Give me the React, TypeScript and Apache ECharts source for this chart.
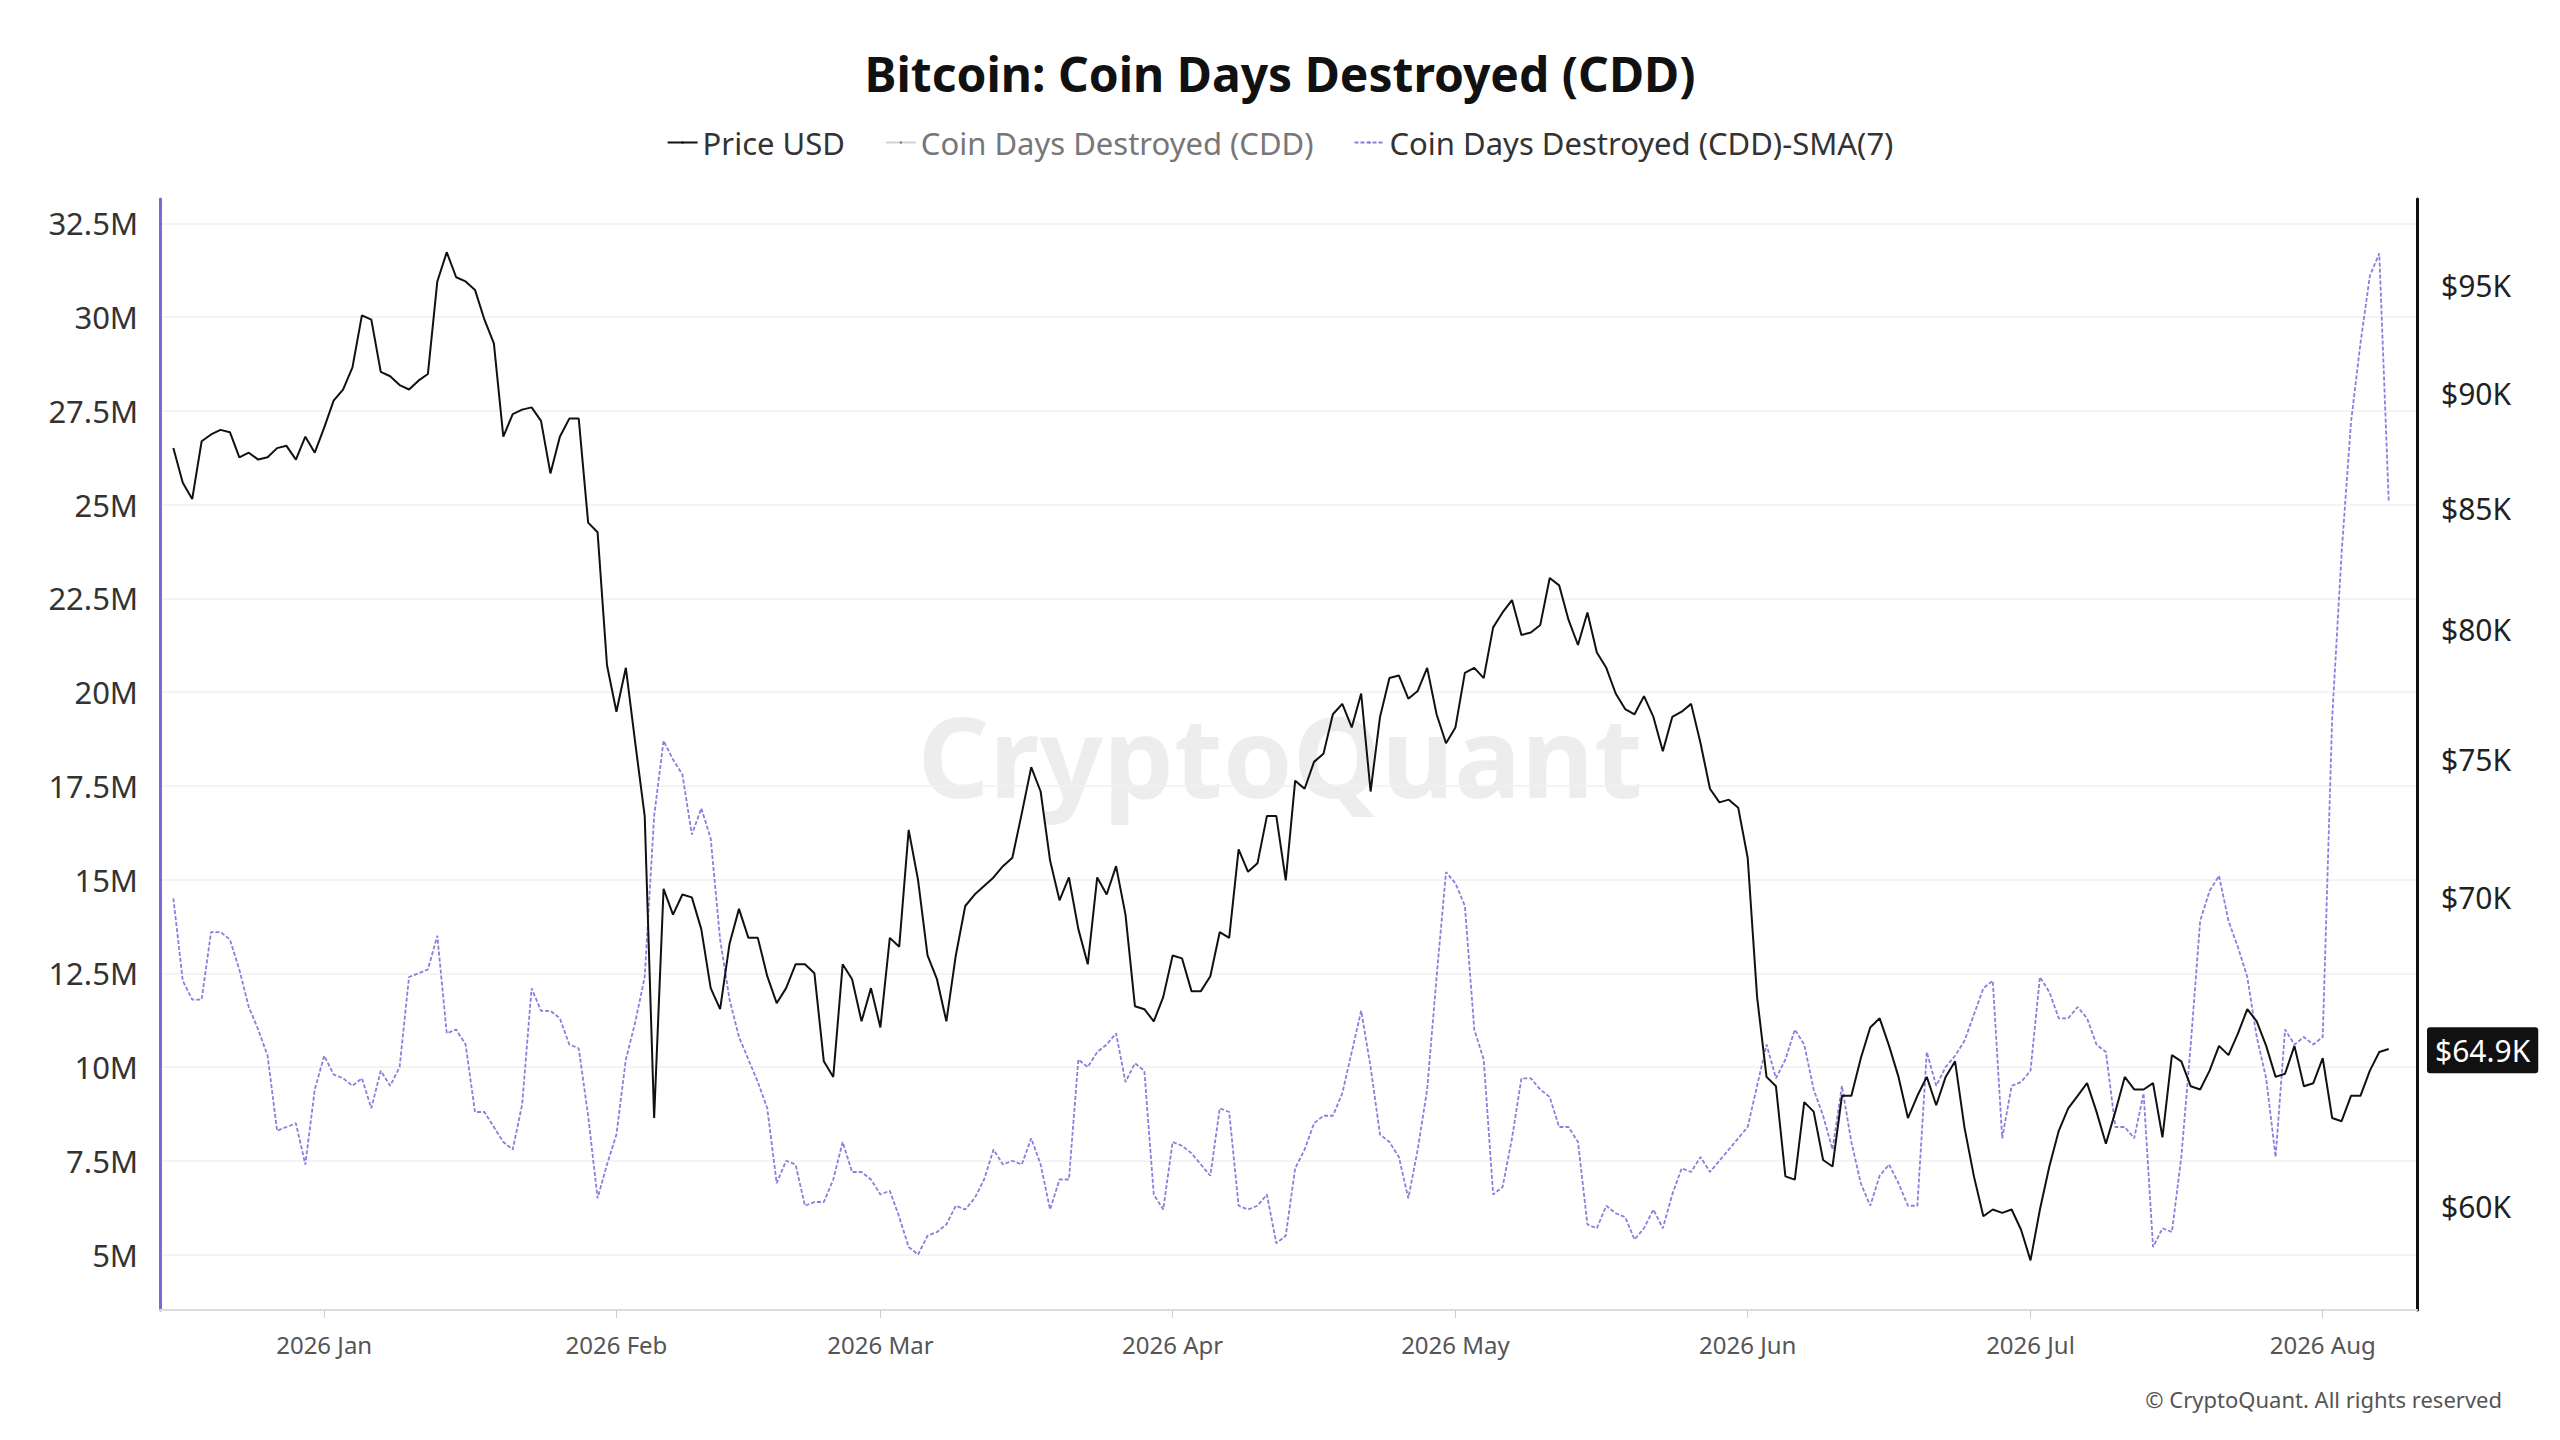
import { useEffect, useRef } from 'react';
import * as echarts from 'echarts';

const startDate = Date.UTC(2025, 11, 16);
const DAY = 86400000;

// Price USD, thousands, daily from 2025-12-16
const priceK = [
  87.6, 86.1, 85.4, 87.9, 88.2, 88.4, 88.3, 87.2, 87.4, 87.1, 87.2, 87.6, 87.7, 87.1, 88.1, 87.4,
  88.5, 89.7, 90.2, 91.2, 93.6, 93.4, 91.0, 90.8, 90.4, 90.2, 90.6, 90.9, 95.2, 96.6, 95.4, 95.2,
  94.8, 93.4, 92.3, 88.1, 89.1, 89.3, 89.4, 88.8, 86.5, 88.1, 88.9, 88.9, 84.4, 84.0, 78.6,
  76.8, 78.5, 75.6, 72.9, 62.7, 70.3, 69.4, 70.1, 70.0, 68.9, 66.9, 66.2, 68.4, 69.6, 68.6, 68.6,
  67.3, 66.4, 66.9, 67.7, 67.7, 67.4, 64.5, 64.0, 67.7, 67.2, 65.8, 66.9,
  65.6, 68.6, 68.3, 72.4, 70.6, 68.0, 67.2, 65.8, 68.0, 69.7, 70.1, 70.4, 70.7, 71.1, 71.4, 73.0,
  74.7, 73.8, 71.3, 69.9, 70.7, 68.9, 67.7, 70.7, 70.1, 71.1, 69.4, 66.3, 66.2, 65.8, 66.6,
  68.0, 67.9, 66.8, 66.8, 67.3, 68.8, 68.6, 71.7, 70.9, 71.2, 72.9, 72.9, 70.6, 74.2, 73.9, 74.9,
  75.2, 76.7, 77.1, 76.2, 77.5, 73.8, 76.6, 78.1, 78.2, 77.3, 77.6, 78.5, 76.7, 75.6,
  76.2, 78.3, 78.5, 78.1, 80.1, 80.7, 81.2, 79.8, 79.9, 80.2, 82.1, 81.8, 80.4, 79.4, 80.7, 79.1,
  78.5, 77.5, 76.9, 76.7, 77.4, 76.6, 75.3, 76.6, 76.8, 77.1, 75.6, 73.9, 73.4, 73.5, 73.2,
  71.4, 66.6, 64.0, 63.7, 60.9, 60.8, 63.2, 62.9, 61.4, 61.2, 63.4, 63.4, 64.6, 65.6, 65.9, 65.0,
  64.0, 62.7, 63.4, 64.0, 63.1, 64.0, 64.5, 62.4, 60.9, 59.7, 59.9, 59.8, 59.9, 59.3,
  58.4, 59.9, 61.2, 62.3, 63.0, 63.4, 63.8, 62.9, 61.9, 62.9, 64.0, 63.6, 63.6, 63.8, 62.1, 64.7,
  64.5, 63.7, 63.6, 64.2, 65.0, 64.7, 65.4, 66.2, 65.8, 65.0, 64.0, 64.1, 65.0, 63.7, 63.8,
  64.6, 62.7, 62.6, 63.4, 63.4, 64.2, 64.8, 64.9,
];

// Coin Days Destroyed SMA(7), millions
const cddSma = [
  14.5, 12.3, 11.8, 11.8, 13.6, 13.6, 13.4, 12.6, 11.6, 11.0, 10.3, 8.3, 8.4, 8.5, 7.4, 9.4,
  10.3, 9.8, 9.7, 9.5, 9.7, 8.9, 9.9, 9.5, 10.0, 12.4, 12.5, 12.6, 13.5, 10.9, 11.0, 10.6,
  8.8, 8.8, 8.4, 8.0, 7.8, 9.0, 12.1, 11.5, 11.5, 11.3, 10.6, 10.5, 8.7, 6.5, 7.4,
  8.2, 10.2, 11.2, 12.4, 16.7, 18.7, 18.2, 17.8, 16.2, 16.9, 16.1, 13.4, 11.8, 10.8, 10.2, 9.6,
  8.9, 6.9, 7.5, 7.4, 6.3, 6.4, 6.4, 7.0, 8.0, 7.2, 7.2, 7.0,
  6.6, 6.7, 6.0, 5.2, 5.0, 5.5, 5.6, 5.8, 6.3, 6.2, 6.5, 7.0, 7.8, 7.4, 7.5, 7.4,
  8.1, 7.4, 6.2, 7.0, 7.0, 10.2, 10.0, 10.4, 10.6, 10.9, 9.6, 10.1, 9.9, 6.6, 6.2,
  8.0, 7.9, 7.7, 7.4, 7.1, 8.9, 8.8, 6.3, 6.2, 6.3, 6.6, 5.3, 5.5, 7.3, 7.8, 8.5,
  8.7, 8.7, 9.3, 10.4, 11.5, 10.0, 8.2, 8.0, 7.6, 6.5, 7.8, 9.4, 12.4, 15.2,
  14.9, 14.3, 11.0, 10.2, 6.6, 6.8, 8.1, 9.7, 9.7, 9.4, 9.2, 8.4, 8.4, 8.0, 5.8, 5.7,
  6.3, 6.1, 6.0, 5.4, 5.7, 6.2, 5.7, 6.6, 7.3, 7.2, 7.6, 7.2, 7.5, 7.8, 8.1,
  8.4, 9.5, 10.6, 9.7, 10.2, 11.0, 10.6, 9.4, 8.7, 7.8, 9.5, 8.0, 6.9, 6.3, 7.1, 7.4,
  6.9, 6.3, 6.3, 10.4, 9.5, 10.0, 10.3, 10.7, 11.4, 12.1, 12.3, 8.1, 9.5, 9.6,
  9.9, 12.4, 12.0, 11.3, 11.3, 11.6, 11.3, 10.6, 10.4, 8.4, 8.4, 8.1, 9.3, 5.2, 5.7, 5.6,
  7.6, 10.6, 13.9, 14.7, 15.1, 13.9, 13.2, 12.4, 10.8, 9.7, 7.6, 11.0, 10.6, 10.8, 10.6,
  10.8, 19.3, 23.7, 27.2, 29.3, 31.1, 31.7, 25.1,
];

const leftTicks = [5, 7.5, 10, 12.5, 15, 17.5, 20, 22.5, 25, 27.5, 30, 32.5];
const rightTicksK = [60, 70, 75, 80, 85, 90, 95];
const monthStarts = [
  Date.UTC(2026, 0, 1), Date.UTC(2026, 1, 1), Date.UTC(2026, 2, 1), Date.UTC(2026, 3, 1),
  Date.UTC(2026, 4, 1), Date.UTC(2026, 5, 1), Date.UTC(2026, 6, 1), Date.UTC(2026, 7, 1),
];
const monthNames = ['Jan', 'Feb', 'Mar', 'Apr', 'May', 'Jun', 'Jul', 'Aug', 'Sep', 'Oct', 'Nov', 'Dec'];

const FONT = '"Noto Sans", "Open Sans", sans-serif';

export default function App() {
  const ref = useRef<HTMLDivElement | null>(null);

  useEffect(() => {
    if (!ref.current) return;
    const chart = echarts.init(ref.current, null, { renderer: 'svg' });
    const priceData = priceK.map((v, i) => [startDate + i * DAY, Math.log(v * 1000)]);
    const smaData = cddSma.map((v, i) => [startDate + i * DAY, v * 1e6]);
    const last = priceK[priceK.length - 1];

    chart.setOption({
      animation: false,
      textStyle: { fontFamily: FONT },
      title: {
        text: 'Bitcoin: Coin Days Destroyed (CDD)',
        left: 'center',
        top: 36,
        textStyle: { fontSize: 48, fontWeight: 'bold', color: '#111', fontFamily: FONT },
      },
      legend: {
        top: 114,
        left: 'center',
        itemWidth: 30,
        itemHeight: 3,
        itemGap: 40,
        textStyle: { fontSize: 31, color: '#333', fontFamily: FONT },
        inactiveColor: '#777',
        selected: { 'Coin Days Destroyed (CDD)': false },
        data: ['Price USD', 'Coin Days Destroyed (CDD)', 'Coin Days Destroyed (CDD)-SMA(7)'],
      },
      graphic: [
        {
          type: 'text',
          left: 'center',
          top: 690,
          z: 0,
          style: { text: 'CryptoQuant', fontSize: 112, fontWeight: 'bold', fill: 'rgba(0,0,0,0.07)', fontFamily: FONT },
        },
        {
          type: 'text',
          right: 50,
          top: 1380,
          style: { text: '© CryptoQuant. All rights reserved', fontSize: 22, fill: '#555', fontFamily: FONT },
        },
      ],
      grid: { left: 152, right: 135, top: 191, bottom: 122 },
      xAxis: {
        type: 'value',
        min: Date.UTC(2025, 11, 14, 14),
        max: Date.UTC(2026, 7, 11),
        axisLine: { show: true, lineStyle: { color: '#ddd', width: 2 } },
        axisTick: { show: true, customValues: monthStarts, length: 8, lineStyle: { color: '#ccc' } },
        splitLine: { show: false },
        axisLabel: {
          customValues: monthStarts,
          fontSize: 24,
          color: '#555',
          margin: 22,
          formatter: (v: number) => {
            const d = new Date(v);
            return `${d.getUTCFullYear()} ${monthNames[d.getUTCMonth()]}`;
          },
        },
      },
      yAxis: [
        {
          type: 'value',
          min: 3.52e6,
          max: 33.15e6,
          position: 'left',
          axisLine: { show: true, lineStyle: { color: '#7b68d9', width: 3 } },
          axisTick: { show: false, customValues: leftTicks.map((v) => v * 1e6) },
          splitLine: { show: true, lineStyle: { color: '#f0f0f0', width: 1.5 } },
          axisLabel: {
            customValues: leftTicks.map((v) => v * 1e6),
            fontSize: 31,
            color: '#333',
            margin: 22,
            formatter: (v: number) => `${v / 1e6}M`,
          },
        },
        {
          type: 'value',
          min: Math.log(56970),
          max: Math.log(99200),
          position: 'right',
          axisLine: { show: true, lineStyle: { color: '#111', width: 3 } },
          axisTick: { show: false },
          splitLine: { show: false },
          axisLabel: {
            customValues: rightTicksK.map((v) => Math.log(v * 1000)),
            fontSize: 30,
            color: '#222',
            margin: 24,
            formatter: (v: number) => `$${Math.round(Math.exp(v) / 1000)}K`,
          },
        },
      ],
      series: [
        {
          name: 'Price USD',
          type: 'line',
          yAxisIndex: 1,
          data: priceData,
          showSymbol: false,
          symbol: 'none',
          color: '#111',
          lineStyle: { width: 2, color: '#111' },
          z: 3,
          markLine: {
            silent: true,
            symbol: 'none',
            lineStyle: { color: 'rgba(0,0,0,0)', width: 0 },
            data: [{ yAxis: Math.log(last * 1000) }],
            label: {
              show: true,
              position: 'end',
              distance: 10,
              formatter: `$${last.toFixed(1)}K`,
              backgroundColor: '#111',
              color: '#fff',
              fontSize: 30,
              padding: [8, 8],
              borderRadius: 3,
            },
          },
        },
        {
          name: 'Coin Days Destroyed (CDD)',
          type: 'line',
          data: [],
          showSymbol: false,
          symbol: 'none',
          color: '#555',
          lineStyle: { width: 2, color: '#555' },
        },
        {
          name: 'Coin Days Destroyed (CDD)-SMA(7)',
          type: 'line',
          data: smaData,
          showSymbol: false,
          symbol: 'none',
          color: '#8a7fdc',
          lineStyle: { width: 1.8, color: '#8a7fdc', type: [4, 2] },
          z: 2,
        },
      ],
    });

    return () => chart.dispose();
  }, []);

  return <div ref={ref} style={{ width: 2544, height: 1424 }} />;
}
